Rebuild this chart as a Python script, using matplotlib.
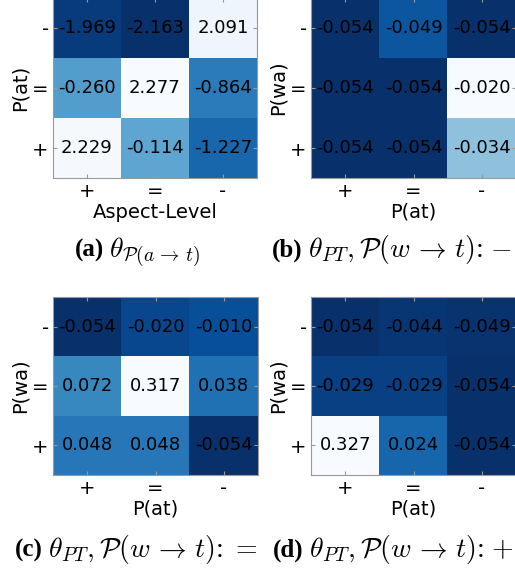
import matplotlib
matplotlib.use("Agg")
import matplotlib.pyplot as plt
import numpy as np

plt.rcParams['mathtext.fontset'] = 'cm'
plt.rcParams['font.family'] = ['DejaVu Sans']

x_ticks = ['+', '=', '-']
y_ticks = ['-', '=', '+']

vals_a = [[-1.969, -2.163, 2.091],
          [-0.260, 2.277, -0.864],
          [2.229, -0.114, -1.227]]
vals_b = [[-0.054, -0.049, -0.054],
          [-0.054, -0.054, -0.020],
          [-0.054, -0.054, -0.034]]
vals_c = [[-0.054, -0.020, -0.010],
          [0.072, 0.317, 0.038],
          [0.048, 0.048, -0.054]]
vals_d = [[-0.054, -0.044, -0.049],
          [-0.029, -0.029, -0.054],
          [0.327, 0.024, -0.054]]

xlabels = ['Aspect-Level', 'P(at)', 'P(at)', 'P(at)']
ylabels = ['P(at)', 'P(wa)', 'P(wa)', 'P(wa)']
cap_tags = ['(a)', '(b)', '(c)', '(d)']
cap_texts = [r'$\theta_{\mathcal{P}(a\,\rightarrow\, t)}$',
             r'$\theta_{PT}, \mathcal{P}(w\,\rightarrow\, t)$: $-$',
             r'$\theta_{PT}, \mathcal{P}(w\,\rightarrow\, t)$: $=$',
             r'$\theta_{PT}, \mathcal{P}(w\,\rightarrow\, t)$: $+$']

W, H = 515, 569
fig = plt.figure(figsize=(W / 100, H / 100), dpi=100)

# pixel boxes (left, top, right, bottom)
boxes = [(53, -2, 257, 178), (311, -2, 516, 178),
         (53, 297, 258, 475), (311, 297, 516, 475)]
cap_pos = [(75, 257), (272, 257), (15, 557), (273, 557)]

data = [vals_a, vals_b, vals_c, vals_d]
for i, (vals, box) in enumerate(zip(data, boxes)):
    l, t, r, b = box
    ax = fig.add_axes([l / W, 1 - b / H, (r - l) / W, (b - t) / H])
    arr = np.array(vals)
    ax.imshow(arr, cmap='Blues_r', aspect='auto', interpolation='nearest',
              vmin=arr.min(), vmax=arr.max())
    for (ri, ci), v in np.ndenumerate(arr):
        ax.text(ci, ri, f"{v:.3f}", ha='center', va='center', fontsize=13, color='black')
    ax.set_xticks(range(3))
    ax.set_xticklabels(x_ticks, fontsize=14)
    ax.set_yticks(range(3))
    ax.set_yticklabels(y_ticks, fontsize=14)
    ax.tick_params(direction='in', length=3, color='#999999', top=True, right=True, pad=3)
    for sp in ax.spines.values():
        sp.set_color('#999999')
        sp.set_linewidth(0.8)
    ax.set_xlabel(xlabels[i], fontsize=14, labelpad=1)
    ax.set_ylabel(ylabels[i], fontsize=14, labelpad=2)

fig.canvas.draw()
renderer = fig.canvas.get_renderer()
for i in range(4):
    x, y = cap_pos[i]
    t1 = fig.text(x / W, 1 - y / H, cap_tags[i], fontsize=18, fontweight='bold',
                  family='Liberation Serif', va='baseline', ha='left')
    bb = t1.get_window_extent(renderer)
    fig.text((bb.x1 + 5) / W, 1 - y / H, cap_texts[i], fontsize=20,
             family='Liberation Serif', va='baseline', ha='left')

fig.savefig('out.png', dpi=100)
